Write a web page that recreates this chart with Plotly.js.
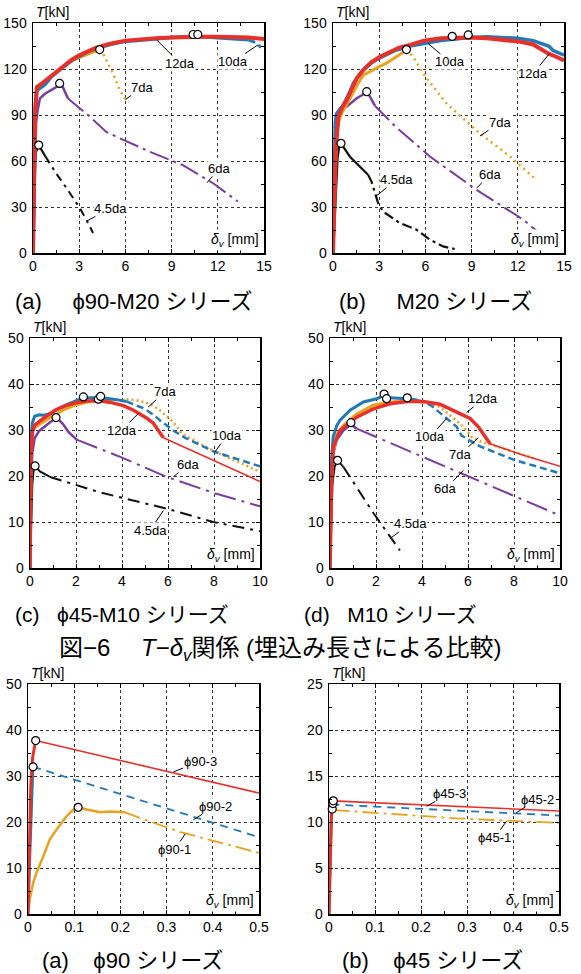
<!DOCTYPE html>
<html>
<head>
<meta charset="utf-8">
<script src="https://cdn.plot.ly/plotly-3.0.1.min.js"></script>
<style>html,body{margin:0;padding:0;background:#fff;}#chart{width:581px;height:974px;}</style>
</head>
<body>
<div id="chart"></div>
<script>
// ===== DATA =====
// (a) φ90-M20 series  [x: δv (mm), y: T (kN)]
const a_45da_x = [0,0.05,0.1,0.2,0.37,0.8,1.5,2.2,3.0,3.5,3.9];
const a_45da_y = [0,30,55,66,70.4,63,52,42,30,21,13];
const a_6da_x = [0,0.1,0.2,0.3,0.45,0.8,1.1,1.4,1.64,1.73,1.95,2.27,3.57,4.76,5.4,7.6,9.7,11.7,13.3];
const a_6da_y = [0,50,85,93,100.9,104,106,107.5,109,110.6,108,100.8,90,79,75.9,66,57.4,45.5,33.6];
const a_7da_x = [0,0.08,0.15,0.25,0.5,0.8,1.2,1.6,2,2.5,3,3.5,4,4.33,4.6,4.8,5.2,5.6,6.0];
const a_7da_y = [0,50,98,109,110.5,112,115.5,118.5,121.5,125,127.5,129.5,131.5,132.7,129,125,117,107,100];
const a_10da_x = [0,0.08,0.15,0.25,0.5,0.8,1.2,1.6,2,2.5,3,3.5,4,4.5,5,6,7,8,9,10,10.7,11,12,13,14,14.5,14.8];
const a_10da_y = [0,45,90,106,108,110,115,118.5,121.5,125.5,128.5,131,133,134.5,136,138,139,140,140.5,141,141.5,141,140.5,140,139,137,134];
const a_12da_x = [0,0.08,0.15,0.25,0.5,0.8,1.2,1.6,2,2.5,3,3.5,4,4.5,5,6,7,8,9,10,11,12,13,14,15];
const a_12da_y = [0,50,95,108,110,112,116,119,122,126,129,131.5,133.5,135,136.5,138.5,139.5,140,140.5,141,141,141,141,140.5,139.5];
const a_peak_x = [0.37,1.73,4.33,10.4,10.7];
const a_peak_y = [70.4,110.6,132.7,142.5,142.5];

// (b) M20 series
const b_45da_x = [0,0.1,0.2,0.3,0.4,0.52,1.1,1.52,2.19,2.28,2.5,2.93,3.25,4.34,5.42,6.29,7.15,7.9];
const b_45da_y = [0,20,45,62,69,71.5,62.8,58.5,52,51,46.6,32.5,27,19.5,15.2,8.7,4.3,2.6];
const b_6da_x = [0,0.1,0.2,0.3,0.45,0.89,1.54,1.9,2.19,2.4,2.73,4,6.29,9.32,12.36,13.66];
const b_6da_y = [0,40,75,88,94.4,95.4,100.9,103,105.2,102,95.9,83,62.9,41.2,21.7,10.8];
const b_7da_x = [0,0.1,0.2,0.35,0.6,0.9,1.2,1.6,1.97,2.5,3,3.5,4,4.5,4.77,5.2,6,7.37,9.54,11.5,13.2];
const b_7da_y = [0,40,68,85,92,97,103,110,116,119,121.5,124,127,130.5,132.7,127.9,115,97.5,78,62.9,47.7];
const b_10da_x = [0,0.05,0.1,0.15,0.24,0.67,1.0,1.32,1.97,2.5,3,4,5,6,7,8,8.78,10,11,12,13,14,14.3,15];
const b_10da_y = [0,40,70,85,91,96.5,103,110.7,119.4,124,127,132,135,137,138.5,139.5,140.5,141,140.5,140,138.5,135,132,129];
const b_12da_x = [0,0.1,0.2,0.35,0.6,0.89,1.2,1.54,1.97,2.5,3.05,3.7,4.3,5.0,5.9,7,8,8.78,10,11,12,13,14,14.5,15];
const b_12da_y = [0,40,70,88.9,95,99.8,106,114,119.4,124.5,128,131.5,134,135.7,138.5,140,140.5,140.5,140,139,138,136,130,128,125.5];
const b_peak_x = [0.52,2.19,4.77,7.74,8.78];
const b_peak_y = [71.5,105.2,132.7,141.3,142.2];

// (c) φ45-M10 series
const c_45da_x = [0,0.05,0.1,0.15,0.22,0.43,0.87,3,5.94,7.97,10];
const c_45da_y = [0,12,18,21,22.2,21,19.8,16.5,12.9,10,8];
const c_6da_x = [0,0.02,0.05,0.1,0.2,0.4,0.6,0.87,1.13,1.3,1.45,1.67,2.03,4,5.94,8,10];
const c_6da_y = [0,12,20,25,28.2,29.8,30.7,31.7,32.5,32,31.2,29.6,27.9,24,19.8,16.3,13.4];
const c_7da_x = [0,0.02,0.05,0.1,0.2,0.58,1.09,1.5,2.03,2.5,3.07,3.6,4.2,4.6,4.93,5.3,5.65,6.0,6.23,6.45,6.6,8,10];
const c_7da_y = [0,15,25,29.5,30.5,31.8,33.2,34.5,35.5,36.1,36.5,36.7,36.7,36.5,36.1,35.4,34.3,32.8,31.7,30.3,29.2,25.4,20.9];
const c_10da_x = [0,0.02,0.05,0.1,0.2,0.4,0.6,0.9,1.3,1.6,2,2.32,2.8,3.3,3.77,4.2,4.49,4.8,5.07,5.4,5.65,6.0,6.23,6.67,8,10];
const c_10da_y = [0,18,28,31.5,33,33.3,33.2,33.6,34.8,35.5,36.4,37.0,37,36.9,36.6,36.2,35.7,35.0,34.3,33.2,32.1,30.8,29.9,28.5,25.3,22.1];
const c_12da_x = [0,0.02,0.05,0.1,0.2,0.58,1.09,1.5,2.03,2.5,2.97,3.5,4.06,4.5,4.78,5.1,5.36,5.55,5.7,5.8,10];
const c_12da_y = [0,15,25,29.5,31,32.5,34.3,35.2,36,36.3,36.4,36,35.3,34.3,33.5,32.5,31.5,30,28.8,28.3,18.8];
const c_peak_x = [0.22,1.13,2.32,2.97,3.07];
const c_peak_y = [22.2,32.7,37.2,36.7,37.3];

// (d) M10 series
const d_45da_x = [0,0.05,0.1,0.2,0.33,0.58,1.88,3.04];
const d_45da_y = [0,10,18,22,23.4,22,12,3.8];
const d_6da_x = [0,0.03,0.07,0.15,0.29,0.58,0.91,1.16,5.5,10];
const d_6da_y = [0,10,20,25,27.8,29.9,31.2,30.3,21.1,11.4];
const d_7da_x = [0,0.03,0.07,0.14,0.3,0.58,1.16,1.88,2.46,3.33,4.06,4.78,5.22,5.65,5.94,6.16,6.5,7,8,8.9];
const d_7da_y = [0,12,20,25,29,31,33.5,35.4,36,36.4,36.1,35,33.2,31.4,29.9,28.5,27.6,26.8,25.3,23.8];
const d_10da_x = [0,0.03,0.07,0.14,0.3,0.43,0.87,1.45,2.03,2.35,2.61,3.33,3.8,4.06,4.4,4.64,5.07,5.51,5.72,6.5,8,10];
const d_10da_y = [0,15,24,28.5,31,32.1,34.3,36.1,36.8,37.5,37,36.8,36.5,36.1,35.3,34.3,32.5,30.7,28.8,26.5,23.5,20.6];
const d_12da_x = [0,0.03,0.07,0.14,0.43,1.16,1.88,2.61,3.36,4.06,4.78,5.51,6.09,6.45,6.67,6.96,8.41,10];
const d_12da_y = [0,10,18,26.3,29.9,32.8,34.6,35.7,36.2,36.2,35.6,33.9,32.5,30.7,29.2,27,24.5,22.1];
const d_peak_x = [0.33,0.91,2.35,2.46,3.36];
const d_peak_y = [23.4,31.6,37.8,36.8,37];

// (a) φ90 series
const e_1_x = [0,0.0036,0.011,0.018,0.033,0.047,0.0615,0.083,0.098,0.1085,0.127,0.156,0.177,0.21,0.242,0.33,0.5];
const e_1_y = [0,3.1,6.7,8.9,12.5,16.2,18.3,21.2,22.7,23.2,22.7,22.1,22.3,22.1,20.9,17.8,13.3];
const e_2_x = [0,0.004,0.007,0.009,0.011,0.5];
const e_2_y = [0,12,22,28,32,16.7];
const e_3_x = [0,0.003,0.006,0.01,0.014,0.0166,0.5];
const e_3_y = [0,15,28,34,36.5,37.7,26.3];
const e_peak_x = [0.011,0.0166,0.1085];
const e_peak_y = [32,37.7,23.2];

// (b) φ45 series
const f_1_x = [0,0.003,0.006,0.01,0.132,0.277,0.5];
const f_1_y = [0,6,11,11.3,10.9,10.4,9.9];
const f_2_x = [0,0.002,0.004,0.005,0.5];
const f_2_y = [0,5,10,11.9,10.7];
const f_3_x = [0,0.002,0.004,0.006,0.0087,0.5];
const f_3_y = [0,5,10,12,12.3,11.2];
const f_peak_x = [0.007,0.0085,0.0094];
const f_peak_y = [11.4,12.0,12.3];

// tick settings per panel
const rangesX = [[0,15],[0,15],[0,10],[0,10],[0,0.5],[0,0.5]];
const rangesY = [[0,150],[0,150],[0,50],[0,50],[0,50],[0,25]];
const dtickX = [3,3,2,2,0.1,0.1];
const dtickY = [30,30,10,10,10,5];

// text
const NB = '\u00a0';
const subtitles = ['(a)'+NB.repeat(5)+'ϕ90-M20 シリーズ','(b)'+NB.repeat(5)+'M20 シリーズ','(c)'+NB.repeat(3)+'ϕ45-M10 シリーズ','(d)'+NB.repeat(3)+'M10 シリーズ','(a)'+NB.repeat(4)+'ϕ90 シリーズ','(b)'+NB.repeat(4)+'ϕ45 シリーズ'];
const caption = '図−6\u3000'+NB+'<i>T</i>−<i>δ<sub>v</sub></i>関係 (埋込み長さによる比較)';

// ===== STYLE / LAYOUT =====
const W = 581, H = 974;
const RED = '#e8302a', BLUE = '#2379b5', ORANGE = '#e8a21e', PURPLE = '#7a3d9e', BLACK = '#111';
const boxes = [[33,264,23,253],[333,564,23,253],[30,260,338,568],[330,560,338,568],[28,259,684,914],[329,559,684,914]];
const FONT = 'Liberation Sans, Arial, Noto Sans CJK JP, sans-serif';

// series definitions: [panel, x, y, color, break x, preWidth, postWidth, postDash]
const topDash = {blue:'7px,4px', orange:'2px,4px', purple:'20px,5px,3px,5px', black:'8px,5px,3px,5px'};
const series = [
  [0,a_45da_x,a_45da_y,BLACK,0.8,2.2,2,topDash.black],
  [0,a_6da_x,a_6da_y,PURPLE,2.27,2.5,2,topDash.purple],
  [0,a_7da_x,a_7da_y,ORANGE,4.33,3,2.5,topDash.orange],
  [0,a_10da_x,a_10da_y,BLUE,14.0,3.5,3,topDash.blue],
  [0,a_12da_x,a_12da_y,RED,99,4,4,'solid'],
  [1,b_45da_x,b_45da_y,BLACK,2.28,2.2,2.2,'10px,4px,3px,4px'],
  [1,b_6da_x,b_6da_y,PURPLE,2.73,2.5,2,topDash.purple],
  [1,b_7da_x,b_7da_y,ORANGE,4.77,3,2.5,topDash.orange],
  [1,b_10da_x,b_10da_y,BLUE,99,3.5,3,topDash.blue],
  [1,b_12da_x,b_12da_y,RED,99,4,4,'solid'],
  [2,c_45da_x,c_45da_y,BLACK,0.87,2,2,'12px,6px,3px,6px'],
  [2,c_6da_x,c_6da_y,PURPLE,2.03,2.5,2,'22px,6px,3px,6px'],
  [2,c_7da_x,c_7da_y,ORANGE,3.8,3,2.5,'2px,3px'],
  [2,c_10da_x,c_10da_y,BLUE,4.2,3,2.5,'7px,4px'],
  [2,c_12da_x,c_12da_y,RED,5.8,3.5,1.6,'solid'],
  [3,d_45da_x,d_45da_y,BLACK,0.58,2,2,'12px,6px,3px,6px'],
  [3,d_6da_x,d_6da_y,PURPLE,1.16,2.5,2,'22px,6px,3px,6px'],
  [3,d_7da_x,d_7da_y,ORANGE,4.06,3,2.5,'2px,3px'],
  [3,d_10da_x,d_10da_y,BLUE,3.8,3,2.5,'7px,4px'],
  [3,d_12da_x,d_12da_y,RED,6.96,3.5,1.6,'solid'],
  [4,e_1_x,e_1_y,ORANGE,0.21,2.5,1.8,'16px,5px,3px,5px'],
  [4,e_2_x,e_2_y,BLUE,0.011,2.5,1.8,'8px,6px'],
  [4,e_3_x,e_3_y,RED,0.0166,3,1.6,'solid'],
  [5,f_1_x,f_1_y,ORANGE,0.01,2.5,1.8,'16px,5px,3px,5px'],
  [5,f_2_x,f_2_y,BLUE,0.005,2.5,1.8,'8px,6px'],
  [5,f_3_x,f_3_y,RED,0.0087,3,1.6,'solid']
];
const peaks = [[a_peak_x,a_peak_y],[b_peak_x,b_peak_y],[c_peak_x,c_peak_y],[d_peak_x,d_peak_y],[e_peak_x,e_peak_y],[f_peak_x,f_peak_y]];

// curve labels: [panel, text, tipX, tipY, textX, textY]
const labels = [
  [0,'12da',8.03,139,9.55,123.7],[0,'10da',14.6,135.7,13.0,124.8],[0,'7da',6.0,100,7.06,108],[0,'6da',11.3,45.9,12.1,55.2],[0,'4.5da',3.53,21,5.0,29.1],
  [1,'10da',6.18,136.6,7.59,124.6],[1,'12da',14.05,130,13.0,117],[1,'7da',9.54,76.3,10.84,85],[1,'6da',9.32,42.3,10.19,51],[1,'4.5da',2.77,36.9,4.12,47.7],
  [2,'7da',5.14,35,5.87,38.3],[2,'12da',4.71,33.6,3.99,29.9],[2,'10da',8.04,25.2,8.55,28.8],[2,'6da',6.23,19.8,6.88,22.5],[2,'4.5da',5.8,12.5,5.22,8.2],
  [3,'12da',5.94,33.8,6.67,36.8],[3,'10da',5.07,32.5,4.35,28.5],[3,'7da',6.45,28.3,5.65,24.7],[3,'6da',5.8,21.2,5.0,17.2],[3,'4.5da',2.61,6.4,3.48,9.6],
  [4,'ϕ90-3',0.315,30.9,0.3726,33.2],[4,'ϕ90-2',0.358,20.5,0.405,23.4],[4,'ϕ90-1',0.34,17.4,0.318,14.0],
  [5,'ϕ45-3',0.212,11.7,0.262,13.1],[5,'ϕ45-2',0.407,11.0,0.454,12.5],[5,'ϕ45-1',0.386,10.1,0.36,8.3]
];

function axName(i, c){ return c + (i===0 ? '' : (i+1)); }

const traces = [];
series.forEach(s => {
  const [p, xs, ys, col, bx, w1, w2, dash] = s;
  const preX=[],preY=[],postX=[],postY=[];
  xs.forEach((x,k)=>{ if(x<=bx){preX.push(x);preY.push(ys[k]);} if(x>=bx){postX.push(x);postY.push(ys[k]);} });
  const xa = axName(p,'x'), ya = axName(p,'y');
  if(preX.length>1) traces.push({x:preX,y:preY,xaxis:xa,yaxis:ya,mode:'lines',line:{color:col,width:w1},hoverinfo:'skip',showlegend:false});
  if(postX.length>1) traces.push({x:postX,y:postY,xaxis:xa,yaxis:ya,mode:'lines',line:{color:col,width:w2,dash:dash},hoverinfo:'skip',showlegend:false});
});
peaks.forEach((pk,p)=>{
  traces.push({x:pk[0],y:pk[1],xaxis:axName(p,'x'),yaxis:axName(p,'y'),mode:'markers',cliponaxis:false,
    marker:{symbol:'circle',size:8,color:'#fff',line:{color:'#000',width:1.2}},hoverinfo:'skip',showlegend:false});
});

const layout = {width:W,height:H,margin:{l:0,r:0,t:0,b:0},paper_bgcolor:'#fff',plot_bgcolor:'#fff',showlegend:false,font:{family:FONT,color:'#000'},annotations:[]};
const minorX = [1.5,1.5,1,1,0.05,0.05], minorY=[15,15,5,5,5,2.5];
boxes.forEach((b,i)=>{
  const [l,r,t,bt] = b;
  const common = {showline:true,mirror:'allticks',linecolor:'#000',linewidth:1.5,showgrid:true,gridcolor:'#333',griddash:'dot',gridwidth:1,
    ticks:'inside',ticklen:4,tickcolor:'#000',tickwidth:1,zeroline:false,fixedrange:true,tickfont:{family:FONT,size:14,color:'#000'},
  };
  layout[axName(i,'xaxis')] = Object.assign({},common,{domain:[l/W,r/W],range:rangesX[i],dtick:dtickX[i],tick0:0,anchor:axName(i,'y'),
    minor:{ticks:'inside',ticklen:3,dtick:minorX[i],tick0:0,tickcolor:'#000',showgrid:false}});
  layout[axName(i,'yaxis')] = Object.assign({},common,{domain:[1-bt/H,1-t/H],range:rangesY[i],dtick:dtickY[i],tick0:0,anchor:axName(i,'x'),ticklabelstandoff:2,
    minor:{ticks:'inside',ticklen:3,dtick:minorY[i],tick0:0,tickcolor:'#000',showgrid:false}});
  // T[kN]
  layout.annotations.push({xref:'paper',yref:'paper',x:(l+1)/W,y:1-(t-1)/H,xanchor:'left',yanchor:'bottom',showarrow:false,
    text:'<i>T</i>[kN]',font:{family:FONT,size:14,color:'#000'}});
  // δv [mm]
  layout.annotations.push({xref:'paper',yref:'paper',x:(r-3)/W,y:1-(bt-13)/H,xanchor:'right',yanchor:'middle',showarrow:false,
    text:'<i>δ<sub>v</sub></i> [mm]',bgcolor:'#fff',borderpad:1,font:{family:FONT,size:14,color:'#000'}});
});
labels.forEach(lb=>{
  const [p,txt,tx,ty,lx,ly] = lb;
  layout.annotations.push({xref:axName(p,'x'),yref:axName(p,'y'),x:tx,y:ty,axref:axName(p,'x'),ayref:axName(p,'y'),ax:lx,ay:ly,
    text:txt,showarrow:true,arrowhead:0,arrowwidth:1,arrowcolor:'#000',standoff:0,startstandoff:0,bgcolor:'#fff',borderpad:0,
    font:{family:FONT,size:13,color:'#000'}});
});
// subtitles and caption
const subPos = [[13,301,22],[337,301,22],[13,614,21],[302,614,21],[40,960,22],[340,960,22]];
subtitles.forEach((s,i)=>{
  layout.annotations.push({xref:'paper',yref:'paper',x:subPos[i][0]/W,y:1-subPos[i][1]/H,xanchor:'left',yanchor:'middle',showarrow:false,
    text:s,font:{family:FONT,size:subPos[i][2],color:'#000'}});
});
layout.annotations.push({xref:'paper',yref:'paper',x:57/W,y:1-649/H,xanchor:'left',yanchor:'middle',showarrow:false,
  text:caption,font:{family:FONT,size:24,color:'#000'}});

Plotly.newPlot('chart',traces,layout,{displayModeBar:false,staticPlot:true});
</script>
</body>
</html>
